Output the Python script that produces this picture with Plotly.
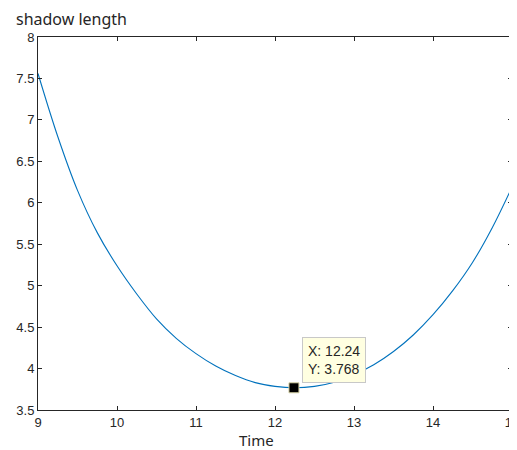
import plotly.graph_objects as go

# Data
time_h = [9.00, 9.25, 9.50, 9.75, 10.00, 10.25, 10.50, 10.75, 11.00, 11.25, 11.50, 11.75,
          12.00, 12.25, 12.50, 12.75, 13.00, 13.25, 13.50, 13.75, 14.00, 14.25, 14.50, 14.75, 15.00]
shadow_len = [7.56, 6.80, 6.15, 5.64, 5.24, 4.90, 4.60, 4.365, 4.18, 4.03, 3.915, 3.83,
              3.785, 3.768, 3.785, 3.835, 3.925, 4.045, 4.205, 4.405, 4.65, 4.94, 5.28, 5.70, 6.19]
tip_x = [12.24]
tip_y = [3.768]
x_ticks = [9, 10, 11, 12, 13, 14, 15]
y_ticks = [3.5, 4, 4.5, 5, 5.5, 6, 6.5, 7, 7.5, 8]

# The page body has an 8px default margin, so the figure is drawn 8px in.
OFF = 8
W, H = 517 - OFF, 450 - OFF
L, R, T, B = 37.5 - OFF, 5, 36.5 - OFF, 40
pw = W - L - R
ph = H - T - B

fig = go.Figure()
fig.add_trace(go.Scatter(x=time_h, y=shadow_len, mode="lines",
                         line=dict(color="#0072BD", width=1.1, shape="spline", smoothing=1.0),
                         hoverinfo="skip", showlegend=False))
fig.add_trace(go.Scatter(x=tip_x, y=tip_y, mode="markers",
                         marker=dict(symbol="square", size=10, color="black",
                                     line=dict(color="#d8d4a8", width=1)),
                         hoverinfo="skip", showlegend=False))

axis_common = dict(showgrid=False, zeroline=False, showline=True, linecolor="#262626",
                   linewidth=1, mirror="ticks", ticks="inside", ticklen=4, tickwidth=1,
                   tickcolor="#262626", ticklabeloverflow="allow",
                   tickfont=dict(family="Liberation Sans, Arial, sans-serif", size=13, color="#262626"))

fig.update_xaxes(range=[9, 15], tickvals=x_ticks, ticktext=[str(v) for v in x_ticks], **axis_common)
fig.update_yaxes(range=[3.5, 8], tickvals=y_ticks, ticktext=[("%g" % v) for v in y_ticks], **axis_common)

fig.add_annotation(x=tip_x[0], y=tip_y[0], xref="x", yref="y",
                   text="X: 12.24<br>Y: 3.768", showarrow=False, align="left",
                   xanchor="left", yanchor="bottom", xshift=8, yshift=5,
                   bgcolor="#ffffe1", bordercolor="#c8c8c8", borderwidth=1, borderpad=5,
                   font=dict(family="Liberation Sans, Arial, sans-serif", size=14, color="#262626"))

fig.add_annotation(x=(256 - 37.5) / pw, y=(410 - 440) / ph, xref="paper", yref="paper",
                   text="Time", showarrow=False, xanchor="center", yanchor="middle",
                   font=dict(family="Noto Sans, sans-serif", size=15, color="#262626"))

fig.update_layout(
    width=W, height=H,
    margin=dict(l=L, r=R, t=T, b=B, autoexpand=False),
    paper_bgcolor="white", plot_bgcolor="white",
    title=dict(text="shadow length", xref="container", yref="container",
               x=(16 - OFF) / W, y=1 - (19 - OFF) / H, xanchor="left", yanchor="middle",
               font=dict(family="Noto Sans, sans-serif", size=16, color="#262626")),
)

fig.write_html("out.html")
